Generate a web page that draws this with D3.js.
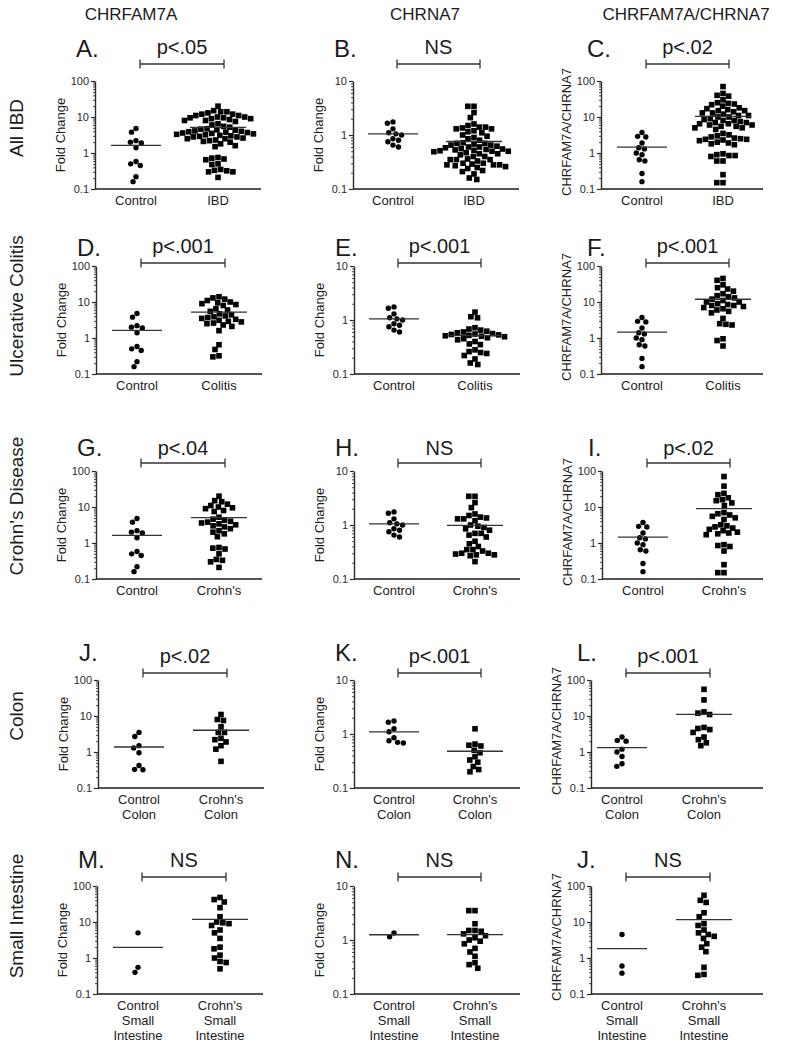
<!DOCTYPE html>
<html><head><meta charset="utf-8">
<script src="https://cdn.jsdelivr.net/npm/d3@7"></script>
<style>
body{margin:0;background:#fff}
text{font-family:"Liberation Sans",Arial,Helvetica,sans-serif}
</style>
</head><body>
<svg id="chart" width="789" height="1043"></svg>
<script>
// ---------------- DATA ----------------
const colHeaders = ["CHRFAM7A", "CHRNA7", "CHRFAM7A/CHRNA7"];
const rowLabels = ["All IBD", "Ulcerative Colitis", "Crohn's Disease", "Colon", "Small Intestine"];
const panelLetters = [["A.","B.","C."],["D.","E.","F."],["G.","H.","I."],["J.","K.","L."],["M.","N.","J."]];
const pTexts = [["p<.05","NS","p<.02"],["p<.001","p<.001","p<.001"],["p<.04","NS","p<.02"],["p<.02","p<.001","p<.001"],["NS","NS","NS"]];
const groupLabels = [
  [["Control"], ["IBD"]],
  [["Control"], ["Colitis"]],
  [["Control"], ["Crohn's"]],
  [["Control","Colon"], ["Crohn's","Colon"]],
  [["Control","Small","Intestine"], ["Crohn's","Small","Intestine"]]
];
const yTitles = ["Fold Change", "Fold Change", "CHRFAM7A/CHRNA7"];
const yTickValues = [0.1, 1, 10, 100];
const yDomains = [[0.1, 100], [0.1, 10], [0.1, 100]];

// Controls (rows 1-3 share the same control samples)
const ctrlFAM   = [4.8, 3.8, 2.2, 2.0, 1.9, 1.4, 0.58, 0.5, 0.45, 0.22, 0.16];
const ctrlNA7   = [1.75, 1.65, 1.3, 1.1, 1.05, 1.0, 0.85, 0.8, 0.75, 0.65, 0.6];
const ctrlRatio = [3.7, 2.9, 2.8, 1.9, 1.4, 1.3, 1.0, 0.9, 0.65, 0.6, 0.27, 0.16];

// Ulcerative colitis
const colitisFAM = [14, 13, 12, 11, 10, 9.5, 9, 8.5, 8, 6.5, 6, 5.5, 4.7, 4.4, 4.1, 3.9, 3.7, 3.5, 3.3, 3.1,
  2.9, 2.8, 2.6, 2.5, 2.3, 2.1, 1.6, 0.65, 0.48, 0.32, 0.3];
const colitisNA7 = [1.4, 1.15, 1.1, 0.72, 0.68, 0.65, 0.62, 0.6, 0.58, 0.56, 0.55, 0.54, 0.53, 0.52, 0.51,
  0.5, 0.49, 0.47, 0.45, 0.43, 0.4, 0.36, 0.35, 0.28, 0.26, 0.25, 0.24, 0.22, 0.19, 0.16, 0.15];
const colitisRatio = [45, 40, 30, 25, 23, 20, 17, 15, 14, 13, 12, 11, 10, 10, 9, 8.5, 8, 8, 7.5, 7,
  6.5, 6, 5.5, 5, 3.5, 2.5, 2.4, 2.3, 0.95, 0.85, 0.6];

// Crohn's disease
const crohnsFAM = [20, 15, 14, 12, 11, 10, 9.5, 9, 8, 7.5, 5.2, 4.6, 4.3, 4.0, 3.8, 3.6, 3.4, 3.2, 3.0, 2.8,
  2.5, 2.2, 2, 1.8, 1.5, 0.75, 0.72, 0.68, 0.5, 0.35, 0.33, 0.3, 0.21];
const crohnsNA7 = [3.4, 3.4, 2.6, 2.1, 1.6, 1.5, 1.4, 1.35, 1.3, 1.3, 1.2, 1.0, 0.95, 0.9, 0.85, 0.8,
  0.7, 0.7, 0.65, 0.6, 0.5, 0.45, 0.4, 0.35, 0.35, 0.33, 0.3, 0.3, 0.29, 0.28, 0.28, 0.27, 0.21];
const crohnsRatio = [70, 38, 24, 22, 18, 16, 15, 13, 11, 7, 6.5, 6, 5.5, 5, 4.5, 3.2, 3, 2.8, 2.6, 2.4,
  2.2, 2, 1.9, 1.8, 1.7, 0.9, 0.85, 0.8, 0.6, 0.25, 0.15, 0.15];

// All IBD = colitis + Crohn's samples
const ibdFAM = colitisFAM.concat(crohnsFAM);
const ibdNA7 = colitisNA7.concat(crohnsNA7);
const ibdRatio = colitisRatio.concat(crohnsRatio);

// Colon
const ctrlColonFAM = [3.5, 2.7, 1.5, 1.3, 0.95, 0.42, 0.33, 0.32];
const crohnsColonFAM = [11, 8, 7.5, 5, 3.5, 3.5, 2.4, 2.2, 1.9, 1.5, 1.2, 0.55];
const ctrlColonNA7 = [1.75, 1.65, 1.25, 1.1, 0.85, 0.75, 0.7, 0.68];
const crohnsColonNA7 = [1.25, 0.65, 0.62, 0.6, 0.5, 0.45, 0.38, 0.33, 0.3, 0.25, 0.22, 0.2];
const ctrlColonRatio = [2.6, 2.1, 2.0, 1.2, 1.0, 0.75, 0.47, 0.4];
const crohnsColonRatio = [55, 28, 13, 12, 11, 4.8, 4.5, 4.2, 3.5, 2.6, 2.2, 1.8, 1.5];

// Small intestine
const ctrlSIFAM = [5, 0.55, 0.4];
const crohnsSIFAM = [48, 42, 36, 25, 14, 10, 9.5, 9, 8, 6, 5, 3.5, 2, 1.8, 1.2, 1.0, 0.8, 0.75, 0.5];
const ctrlSINA7 = [1.15, 1.35];
const crohnsSINA7 = [3.5, 3.5, 2.0, 1.5, 1.5, 1.45, 1.3, 1.2, 1.1, 1.0, 0.95, 0.85, 0.7, 0.6, 0.5, 0.38, 0.35, 0.3];
const ctrlSIRatio = [4.5, 0.6, 0.38];
const crohnsSIRatio = [55, 40, 35, 18, 14, 9, 8, 6, 5, 4.5, 4, 3.5, 2.5, 2, 1.5, 0.55, 0.35, 0.33];

const panelData = [
  [[ctrlFAM, ibdFAM], [ctrlNA7, ibdNA7], [ctrlRatio, ibdRatio]],
  [[ctrlFAM, colitisFAM], [ctrlNA7, colitisNA7], [ctrlRatio, colitisRatio]],
  [[ctrlFAM, crohnsFAM], [ctrlNA7, crohnsNA7], [ctrlRatio, crohnsRatio]],
  [[ctrlColonFAM, crohnsColonFAM], [ctrlColonNA7, crohnsColonNA7], [ctrlColonRatio, crohnsColonRatio]],
  [[ctrlSIFAM, crohnsSIFAM], [ctrlSINA7, crohnsSINA7], [ctrlSIRatio, crohnsSIRatio]]
];

// ---------------- LAYOUT ----------------
const rowTop = [81, 266, 471, 680, 886];
const plotH = 108;
const barY = [64, 263, 463, 673, 877];
const letterY = [57, 256, 456, 661, 868];
const pY = [54, 253, 455, 663, 867];
const axisX = [[95, 353, 601], [96, 354, 601], [96, 354, 602], [98, 354, 591], [97, 354, 591]];
const rowLabelY = [128, 306, 506, 716, 916];
const colHeaderX = [131, 425, 686];
const ink = "#1b1b1b";

const svg = d3.select("#chart");
svg.append("rect").attr("width", 789).attr("height", 1043).attr("fill", "#fff");

// column headers
svg.selectAll("text.colh").data(colHeaders).join("text")
  .attr("class", "colh")
  .attr("x", (d, i) => colHeaderX[i]).attr("y", 20)
  .attr("text-anchor", "middle").attr("font-size", 17).style("fill", ink)
  .text(d => d);

// row labels
svg.selectAll("text.rowl").data(rowLabels).join("text")
  .attr("class", "rowl")
  .attr("transform", (d, i) => `translate(23,${rowLabelY[i]}) rotate(-90)`)
  .attr("text-anchor", "middle").attr("font-size", 19).style("fill", ink)
  .text(d => d);

// beeswarm offsets (markers treated as discs of diameter sep)
function swarm(vals, y, shape) {
  const sep = shape === "square" ? 6.2 : 5.8;
  const pts = vals.map(v => ({ v, y: y(v) })).sort((a, b) => a.y - b.y);
  const placed = [];
  pts.forEach(p => {
    const iv = [];
    placed.forEach(q => {
      const dy = Math.abs(q.y - p.y);
      if (dy < sep) {
        const h = Math.sqrt(sep * sep - dy * dy);
        iv.push([q.dx - h, q.dx + h]);
      }
    });
    const cands = [0];
    iv.forEach(i => { cands.push(i[0], i[1]); });
    cands.sort((a, b) => Math.abs(a) - Math.abs(b) || a - b);
    let chosen = 0;
    for (const c of cands) {
      if (!iv.some(i => c > i[0] + 1e-6 && c < i[1] - 1e-6)) { chosen = c; break; }
    }
    p.dx = chosen;
    placed.push(p);
  });
  return pts;
}

function drawPanel(r, c) {
  const ax = axisX[r][c];
  const top = rowTop[r], bottom = top + plotH;
  const endX = c === 2 ? 763 : ax + 166;
  const compact = (c === 2 && r >= 3);
  const cx0 = ax + (compact ? 31 : [41, 40, 41][c]);
  const cx1 = ax + (compact ? 113 : [123, 121, 122][c]);

  const y = d3.scaleLog().domain(yDomains[c]).range([bottom, top]);
  const g = svg.append("g");

  // minor ticks
  const minors = y.ticks().filter(t => !yTickValues.includes(t) && t > yDomains[c][0] && t < yDomains[c][1]);
  g.append("g").attr("transform", `translate(${ax},0)`).attr("color", ink)
    .call(d3.axisLeft(y).tickValues(minors).tickSize(2).tickFormat(""))
    .call(s => s.select(".domain").remove())
    .call(s => s.selectAll("line").attr("stroke-width", 0.8));
  // major ticks + labels
  const majors = yTickValues.filter(t => t >= yDomains[c][0] && t <= yDomains[c][1]);
  g.append("g").attr("transform", `translate(${ax},0)`).attr("color", "#2a2a2a")
    .call(d3.axisLeft(y).tickValues(majors).tickSize(4).tickSizeOuter(0).tickPadding(2).tickFormat(d => String(d)))
    .call(s => s.select(".domain").attr("stroke-width", 1.4))
    .call(s => s.selectAll("line").attr("stroke-width", 1.2))
    .call(s => s.selectAll("text").attr("font-size", 11)
      .attr("font-family", '"Liberation Sans",Arial,sans-serif'));

  // x axis line
  const x = d3.scalePoint().domain([0, 1]).range([cx0, cx1]);
  g.append("line").attr("x1", ax).attr("x2", endX).attr("y1", bottom).attr("y2", bottom)
    .style("stroke", ink).attr("stroke-width", 1.4);

  // y title
  g.append("text").attr("transform", `translate(${ax - 30},${(top + bottom) / 2 - (c === 2 ? 3 : 0)}) rotate(-90)`)
    .attr("text-anchor", "middle").attr("font-size", 13).style("fill", ink).text(yTitles[c]);

  // category labels
  groupLabels[r].forEach((lines, gi) => {
    const t = g.append("text").attr("text-anchor", "middle").attr("font-size", 13).style("fill", ink);
    lines.forEach((ln, li) => {
      t.append("tspan").attr("x", x(gi)).attr("y", bottom + 16 + li * 15).text(ln);
    });
  });

  // data
  panelData[r][c].forEach((vals, gi) => {
    const shape = gi === 0 ? "circle" : "square";
    const pts = swarm(vals, y, shape);
    const cx = x(gi);
    if (shape === "circle") {
      g.selectAll(null).data(pts).join("circle")
        .attr("cx", d => cx + d.dx).attr("cy", d => d.y).attr("r", 2.7).style("fill", "#000");
    } else {
      const s = 5.6;
      g.selectAll(null).data(pts).join("rect")
        .attr("x", d => cx + d.dx - s / 2).attr("y", d => d.y - s / 2)
        .attr("width", s).attr("height", s).style("fill", "#000");
    }
    const m = d3.mean(vals);
    const hw = gi === 0 ? 25 : 28;
    g.append("line").attr("x1", cx - hw).attr("x2", cx + hw)
      .attr("y1", y(m)).attr("y2", y(m)).style("stroke", "#333").attr("stroke-width", 1.3);
  });

  // significance bar
  const bx0 = cx0 + 4, bx1 = cx1 + 6, by = barY[r];
  g.append("line").attr("x1", bx0).attr("x2", bx1).attr("y1", by).attr("y2", by)
    .style("stroke", "#333").attr("stroke-width", 1.3);
  [bx0, bx1].forEach(bx => g.append("line").attr("x1", bx).attr("x2", bx)
    .attr("y1", by - 4.5).attr("y2", by + 4.5).style("stroke", "#333").attr("stroke-width", 1.3));

  // p text
  g.append("text").attr("x", (bx0 + bx1) / 2).attr("y", pY[r]).attr("text-anchor", "middle")
    .attr("font-size", 20).style("fill", ink).text(pTexts[r][c]);

  // panel letter
  g.append("text").attr("x", ax - (c === 2 ? 14 : 19)).attr("y", letterY[r])
    .attr("font-size", 24).style("fill", ink).text(panelLetters[r][c]);
}

for (let r = 0; r < 5; r++) for (let c = 0; c < 3; c++) drawPanel(r, c);
</script>
</body></html>
